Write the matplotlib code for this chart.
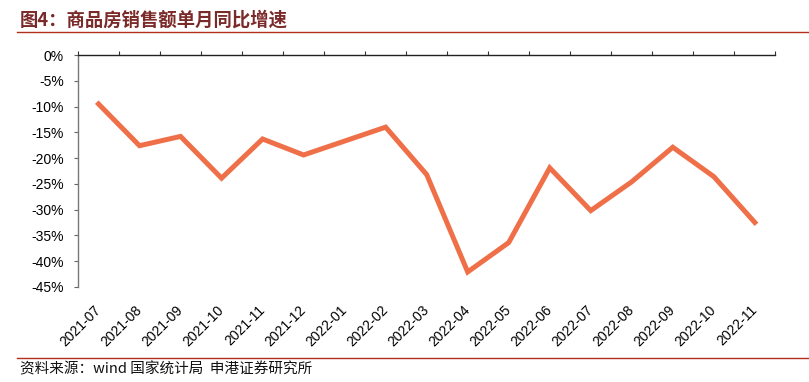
import matplotlib.pyplot as plt
from matplotlib.lines import Line2D
from matplotlib.ticker import FuncFormatter, MultipleLocator

plt.rcParams['font.family'] = ['Liberation Sans', 'Noto Sans CJK SC', 'DejaVu Sans']

# === Data ===
months = ["2021-07", "2021-08", "2021-09", "2021-10", "2021-11", "2021-12",
          "2022-01", "2022-02", "2022-03", "2022-04", "2022-05", "2022-06",
          "2022-07", "2022-08", "2022-09", "2022-10", "2022-11"]
yoy = [-9.5, -17.6, -15.8, -23.9, -16.3, -19.4, -16.7, -14.0, -23.2,
       -42.1, -36.4, -21.9, -30.2, -24.6, -17.9, -23.6, -32.5]

title = "图4：商品房销售额单月同比增速"
source = "资料来源：wind 国家统计局  申港证券研究所"

# === Figure ===
fig = plt.figure(figsize=(8.09, 3.82), dpi=100)
ax = fig.add_axes([0.0964, 0.249, 0.862, 0.607])

x = list(range(len(months)))
ax.plot(x, yoy, color="#EF7048", linewidth=3.6, solid_joinstyle="miter")

ax.set_xlim(-0.5, len(months) - 0.5)
ax.set_ylim(-45, 0)
ax.yaxis.set_major_locator(MultipleLocator(5))
ax.yaxis.set_major_formatter(FuncFormatter(lambda v, p: f"{v:.0f}%"))

# x axis sits at 0% (top), ticks between categories, labels at bottom
ax.set_xticks([i - 0.5 for i in range(len(months) + 1)], minor=True)
ax.set_xticks(x)
ax.set_xticklabels(months, rotation=45, ha="right", va="center", rotation_mode="anchor")
ax.tick_params(axis="x", which="major", length=0, bottom=False, top=False,
               labelbottom=True, pad=15, labelsize=10)
ax.tick_params(axis="x", which="minor", top=True, bottom=False, direction="out",
               length=3, width=0.8, color="#333333")
ax.tick_params(axis="y", direction="out", length=3, width=0.8, color="#666666",
               labelsize=10, pad=7)

for s in ["right", "bottom"]:
    ax.spines[s].set_visible(False)
ax.spines["left"].set_color("#777777")
ax.spines["left"].set_linewidth(1.0)
ax.spines["top"].set_color("#222222")
ax.spines["top"].set_linewidth(1.0)

# === Title and source ===
fig.text(0.025, 0.948, title, fontsize=13.2, fontweight="bold", color="#7B2A2A",
         family=["Noto Sans CJK SC", "DejaVu Sans"], va="center", ha="left")
fig.add_artist(Line2D([0.021, 1.0], [0.916, 0.916], transform=fig.transFigure,
                      color="#B0301C", linewidth=1.0))
fig.add_artist(Line2D([0.021, 1.0], [0.063, 0.063], transform=fig.transFigure,
                      color="#B0301C", linewidth=1.0))
fig.text(0.025, 0.034, source, fontsize=10.5, style="italic", color="#111111",
         family=["Noto Sans CJK SC", "DejaVu Sans"], va="center", ha="left")

fig.savefig("out.png", dpi=100)
